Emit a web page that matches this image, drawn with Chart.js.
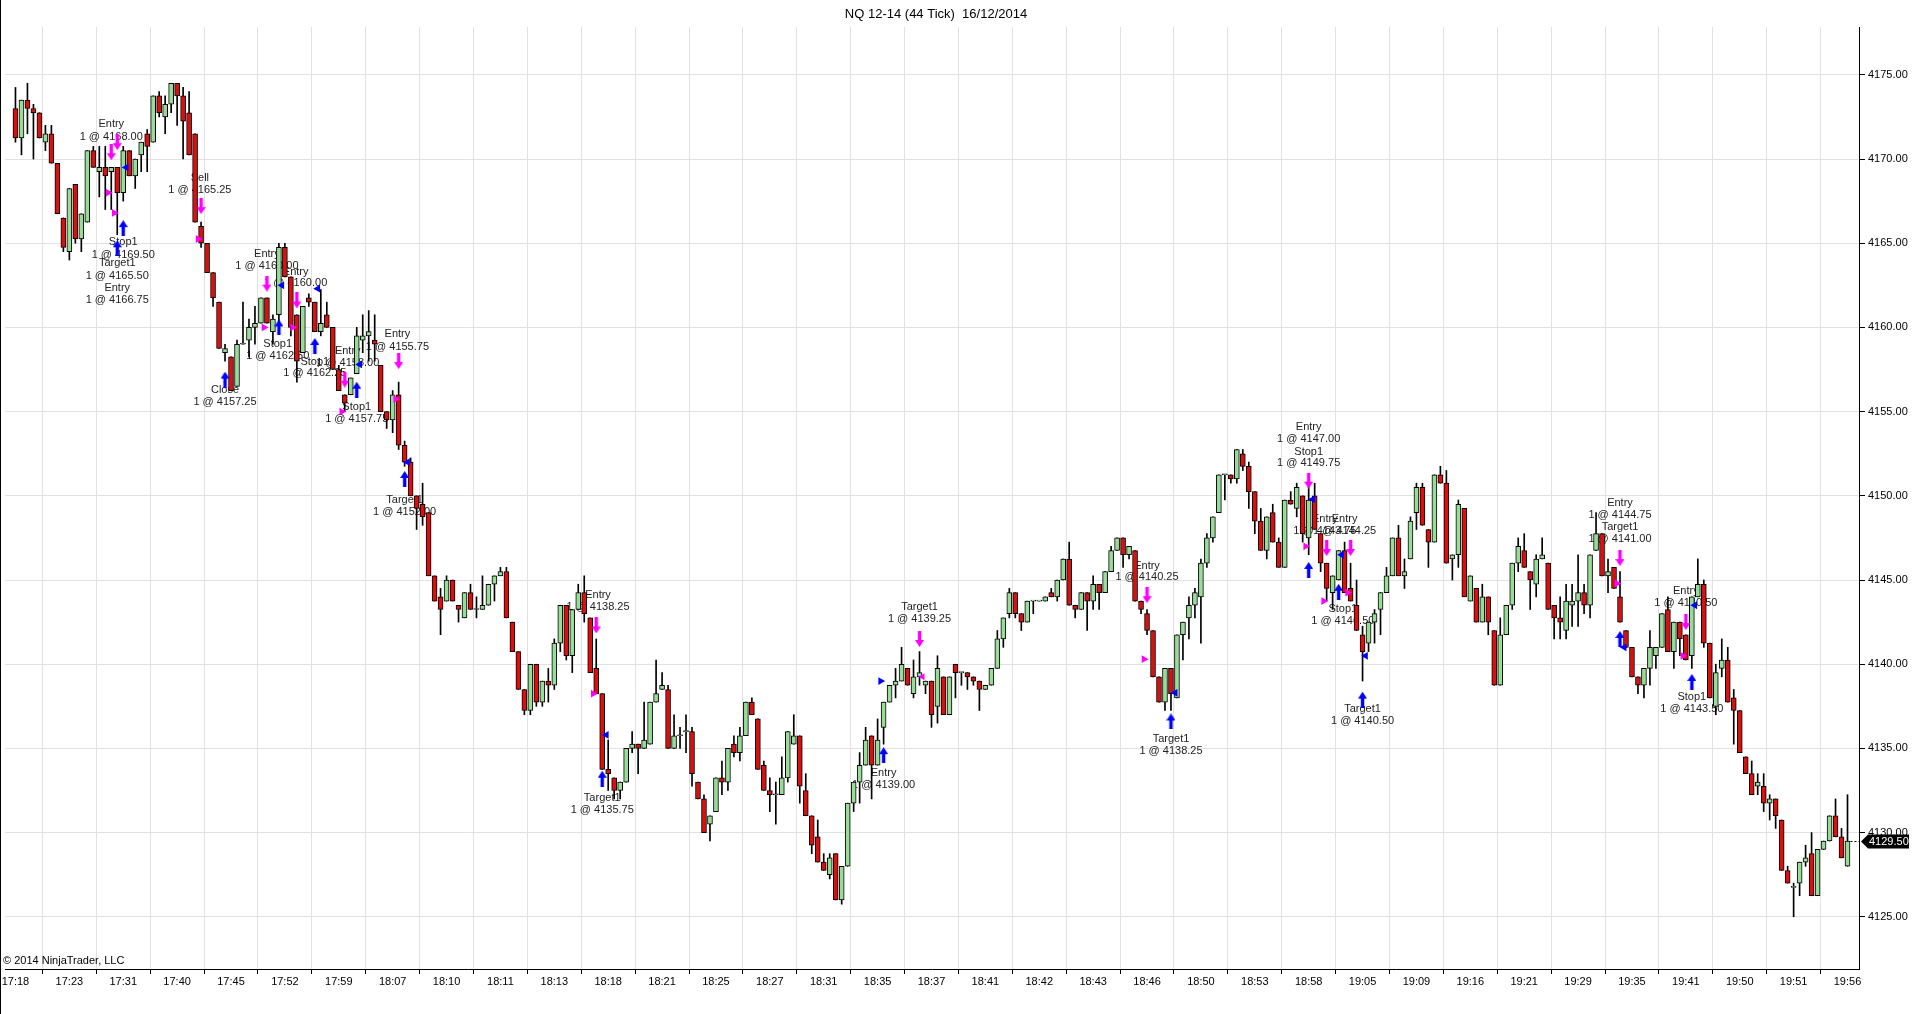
<!DOCTYPE html>
<html><head><meta charset="utf-8">
<script src="https://cdn.jsdelivr.net/npm/chart.js@4.4.1/dist/chart.umd.min.js"></script>
<style>html,body{margin:0;padding:0;background:#fff;overflow:hidden}canvas{display:block}</style>
</head><body>
<canvas id="c" width="1920" height="1014"></canvas>
<script>
const chartTitle = 'NQ 12-14 (44 Tick)  16/12/2014';
const copyright = '\u00a9 2014 NinjaTrader, LLC';
const barsPerLabel = 9;
const timeLabels = ['17:18','17:23','17:31','17:40','17:45','17:52','17:59','18:07','18:10','18:11','18:13','18:18','18:21','18:25','18:27','18:31','18:35','18:37','18:41','18:42','18:43','18:46','18:50','18:53','18:58','19:05','19:09','19:16','19:21','19:29','19:35','19:41','19:50','19:51','19:56'];
const yTicks = [4125,4130,4135,4140,4145,4150,4155,4160,4165,4170,4175];

const opens = [
4173,4171.25,4173.5,4173,4172.75,4171,4171.5,4169.75,4166.5,4164.5,
4168.5,4165.25,4166.25,4170.5,4169.25,4169.5,4169.25,4169.5,4168,4170.5,
4169,4170.25,4171.5,4171,4173.75,4172.5,4173.25,4174.5,4173.75,4172.75,
4171.5,4166,4165,4163.25,4161.5,4158.5,4158.25,4156.5,4159,4159.25,
4160,4160.25,4161.75,4159.75,4160.75,4164.75,4163,4160.75,4158.5,4161.75,
4161.5,4159.75,4160.75,4160,4157.5,4156,4156,4157.25,4159.25,4159.5,
4159.25,4157.75,4155,4154.5,4156,4153,4152,4150,4149.5,4149,
4145.25,4144,4143.75,4145,4143.5,4142.75,4144.25,4143.25,4143.25,4143.5,
4144.75,4145.25,4145.5,4142.5,4140.75,4138.5,4137.25,4140,4137.75,4139,
4138.75,4141.25,4143.5,4140.5,4143.25,4144.25,4142.75,4139.75,4138.25,4133.75,
4133.25,4132.5,4133,4135,4135.25,4135,4135.25,4137.75,4138.5,4138.5,
4135,4135.75,4136,4136,4133,4132,4130.5,4131.25,4133.25,4133,
4135.25,4134.75,4135.75,4137.75,4136.75,4134,4132.5,4132.25,4132.25,4133.25,
4135.25,4135.75,4132.5,4131,4129.75,4128.25,4127.5,4128.75,4126,4128,
4131.75,4133,4134,4135.75,4134,4136.25,4137.75,4138.75,4139,4139.75,
4138.25,4139.25,4138.75,4139,4137.5,4139.25,4137,4140,4139.5,4139.5,
4139.25,4139,4138.5,4138.75,4139.75,4141.5,4143,4144.25,4143,4142.5,
4143.75,4143.75,4143.75,4144.25,4144,4145,4146.25,4143.5,4143.25,4144.25,
4143.75,4144.75,4144.25,4145.5,4146.75,4147.5,4146.5,4146.75,4143.75,4143,
4142,4139.25,4137.75,4139.75,4138,4141.75,4142.75,4143.5,4144,4146,
4147.5,4149,4151.25,4151.25,4151,4152.5,4151.75,4150.25,4148.5,4146.75,
4149,4147.25,4145.75,4149.75,4149.25,4150,4147.5,4150,4147.75,4146,
4144.25,4145,4146.75,4144.5,4143.5,4141.75,4141.25,4142.5,4143.25,4144.25,
4145.25,4147.5,4145.25,4146.25,4149,4150.5,4148,4147.25,4151.25,4150.75,
4146.25,4146.5,4149.25,4143.75,4144.5,4142.5,4144,4142,4138.75,4141.75,
4143.5,4146,4146.75,4145.5,4144.75,4146.25,4146,4143.5,4142.75,4142,
4143.5,4143.75,4144.25,4143.5,4146.75,4147.75,4145.25,4145.75,4144,4142,
4141,4139.25,4138.75,4139.75,4140.5,4141,4143.25,4140.75,4142.5,4141.75,
4140.5,4144,4144.75,4141.25,4137.5,4139.75,4140.25,4138,4137.25,4134.5,
4133.5,4132.75,4132.75,4131.75,4132,4130.75,4127.75,4126.75,4127,4128.25,
4128.75,4126.25,4129,4129.5,4131,4129.75,4128];

const highs = [
4174.25,4173.5,4174.5,4173.25,4172.75,4172,4172,4169.75,4166.5,4168.25,
4168.5,4166.75,4170.5,4170.75,4170.75,4170.75,4169.5,4169.5,4170.75,4170.5,
4170,4171,4171.75,4173.75,4174,4173.75,4174.5,4174.5,4174.25,4174,
4171.5,4166.25,4165,4163.25,4161.5,4159,4158.25,4159.25,4161.5,4160.5,
4161.25,4161.75,4161.75,4160.75,4165,4165,4163,4160.75,4161.25,4162,
4161.5,4162.25,4161.5,4160,4157.75,4156,4157,4160,4160.75,4161,
4160.75,4157.75,4155,4156.25,4156.75,4153.25,4152.25,4150,4150.75,4149,
4145.25,4144.5,4145.25,4145,4143.5,4144.25,4144.75,4144,4145.25,4144.75,
4145.25,4145.75,4145.75,4142.5,4140.75,4138.5,4140,4140,4139,4139.75,
4141.5,4143.5,4143.5,4143.25,4144.75,4145.25,4142.75,4141.5,4138.25,4135.5,
4133.25,4133,4135,4136,4135.25,4137.75,4137.75,4140.25,4139.5,4138.75,
4137,4136.25,4137,4136.25,4133,4132.25,4131,4133.25,4134.25,4135,
4135.75,4136.25,4137.75,4138,4136.75,4134.25,4133.25,4133,4134.5,4136,
4137,4135.75,4133.5,4131,4130.75,4128.75,4128.75,4128.75,4128,4131.75,
4133,4134.75,4136.25,4135.75,4136.75,4137.75,4138.75,4139.75,4141,4139.75,
4140.25,4140.75,4139,4139,4140.5,4139.25,4139.25,4140,4139.5,4139.5,
4139.25,4139,4138.75,4139.75,4142,4142.75,4144.5,4144.25,4143,4143.75,
4143.75,4143.75,4144,4144.5,4145,4146.25,4147.25,4143.5,4144.25,4144.25,
4145.25,4144.75,4145.5,4147,4147.5,4147.5,4147,4146.75,4143.75,4143.25,
4142,4139.25,4139.75,4139.75,4141.75,4142.5,4144,4144.5,4146.25,4147.75,
4148.75,4151.25,4151.25,4151.25,4152.75,4152.75,4152,4150.25,4149.25,4148.75,
4149.5,4147.5,4149.75,4150.25,4150.75,4150,4150.75,4150.75,4147.75,4146,
4145.25,4146.75,4147.25,4146,4145,4142.25,4142.5,4143.25,4144.25,4145.75,
4147.5,4148.25,4146.25,4148.75,4150.75,4150.75,4148,4151.25,4151.75,4151.5,
4146.5,4149.75,4149.25,4145.25,4144.5,4144.75,4144,4142,4142.75,4143.5,
4146,4147.5,4147.75,4145.5,4146.5,4147.5,4146,4143.5,4144,4144.75,
4144.75,4146.5,4144.75,4146.5,4149,4147.75,4146.25,4145.75,4145.5,4142,
4141,4139.25,4139.75,4142,4141,4143,4144,4142.5,4142.5,4141.75,
4144,4146.25,4145,4141.25,4140,4141.5,4141,4138.5,4137.25,4134.5,
4134.25,4133.5,4133.5,4132.25,4132,4130.75,4128,4127,4128.25,4129.25,
4130,4129,4129.5,4131,4132,4130.25,4132.25];

const lows = [
4171,4170.25,4171.5,4170,4171.25,4170.5,4169.75,4166.75,4164.5,4164,
4165,4164.5,4166.25,4169.5,4167.75,4167,4167,4165.5,4167.5,4169,
4168.25,4169.25,4169.25,4171,4172.5,4171.5,4172.75,4172,4170,4170.25,
4166.25,4164.75,4163.25,4161.25,4158.75,4158,4156.25,4156.5,4159,4158.25,
4159,4160.25,4160.25,4159,4159.75,4163,4159.5,4156.75,4158.5,4161.25,
4159.75,4159.5,4160,4157.5,4156.25,4155,4156,4157.25,4158.5,4158,
4158,4155,4154,4153.75,4152.75,4151.75,4150,4148,4148.25,4145.25,
4143.75,4141.75,4143.75,4143.75,4142.5,4142.75,4143.25,4142.75,4143.25,4143.5,
4143.75,4145.25,4142.75,4140.75,4138.5,4137,4137,4137.5,4137.5,4137.75,
4138.5,4140.75,4140.25,4139.5,4143.25,4142.5,4139.5,4138.25,4133.75,4132.5,
4132,4132,4133,4134.75,4133.5,4135,4135.25,4137.75,4138.5,4135,
4135,4135,4134.75,4132.75,4132,4130,4129.5,4131.25,4132.25,4132.5,
4134.5,4134.25,4135.75,4137,4133.75,4132.5,4131.25,4130.5,4132.25,4133,
4135.25,4131.75,4131,4128.75,4128.25,4127.75,4127.25,4126,4125.75,4128,
4131.25,4131.75,4134,4132,4134,4135.25,4137.75,4138,4139,4138.75,
4138,4138.75,4138.25,4136.25,4136.5,4137,4137,4138,4138.75,4138.5,
4138.75,4137.25,4138.5,4138.75,4139.75,4141,4142.75,4142.75,4142,4142.5,
4143,4143.75,4143.75,4144,4143.75,4145,4143.5,4142.75,4143.25,4142,
4143.25,4143.25,4144.25,4145.5,4146.75,4145.75,4146.25,4143.75,4143,4141.75,
4139.25,4137.75,4137.25,4137.25,4138,4140.25,4141.5,4142.75,4141.25,4145.75,
4147.25,4149,4149.75,4150.75,4150.75,4151.5,4149.25,4147.75,4146.75,4146.25,
4147.25,4145.75,4145.75,4149.5,4148.75,4147.25,4146.5,4148,4145.5,4143.75,
4143.25,4145,4144.25,4143.75,4142,4139,4140.75,4141.25,4141.75,4144.25,
4145.25,4145.25,4144.5,4146.25,4148,4148.25,4145.75,4147.25,4150.75,4146,
4145,4145.75,4144,4143.75,4142.5,4142.5,4141.75,4138.75,4138.75,4141.75,
4143.25,4145.5,4145.75,4143.25,4144,4146.25,4143.25,4141.5,4141.5,4141.5,
4142.25,4142.25,4143,4142.75,4146.75,4145.25,4144.25,4144.5,4142.5,4141,
4139.25,4138.25,4138,4138.75,4139.75,4141,4140.75,4139.75,4140.5,4140.25,
4139.75,4144,4141,4138,4137,4139.25,4137.75,4135.25,4134.75,4133.5,
4132.25,4132.25,4131.25,4130.75,4130.25,4127.75,4127,4125,4126.25,4128,
4126.25,4126.25,4129,4129.5,4129.75,4128.5,4128];

const closes = [
4171.25,4173.5,4173,4172.75,4171.25,4171.5,4169.75,4166.75,4164.75,4168.25,
4165.25,4166.75,4170.5,4169.5,4169.5,4169,4169.5,4168,4170.5,4169,
4170,4171,4170.75,4173.75,4172.75,4173.25,4174.5,4173.75,4172.25,4170.25,
4166.25,4165,4163.25,4161.75,4158.75,4158.75,4156.25,4159,4159,4160,
4160.25,4161.75,4160.25,4160.5,4164.75,4163,4160,4158,4161.25,4161.5,
4159.75,4160.25,4160,4157.5,4156.25,4155.5,4157,4159.5,4159.5,4159.75,
4159,4155,4154.5,4156,4153,4152,4150,4149.25,4148.75,4145.25,
4143.75,4143.25,4145,4143.75,4143.25,4144.25,4143.25,4143.25,4143.5,4144.75,
4145.25,4145.5,4142.75,4140.75,4138.5,4137.25,4140,4137.75,4139,4138.75,
4141.25,4143.5,4140.5,4143.25,4144.25,4143,4139.5,4138.25,4133.75,4133.5,
4132.5,4133,4135,4135.25,4135,4135.5,4137.75,4138.25,4138.75,4135,
4135.75,4135.75,4136,4133.5,4132,4130,4131,4133.25,4133,4135,
4134.75,4135.75,4137.75,4137,4133.75,4132.5,4132.25,4132.25,4133.25,4136,
4135.75,4132.75,4131,4129.25,4128.25,4127.75,4128.5,4126,4128,4131.75,
4133,4134,4135.5,4134,4135.5,4137.75,4138.75,4139,4140,4138.75,
4139.25,4139.5,4139,4137,4139.75,4137,4139.25,4139.5,4139.5,4139.25,
4139,4138.5,4138.75,4139.75,4141.5,4142.75,4144.25,4143,4142.5,4143.75,
4143.75,4143.75,4144,4144,4145,4146.25,4143.5,4143.25,4144.25,4143.75,
4144.75,4144.25,4145.5,4146.75,4147.5,4146.5,4147,4143.75,4143.25,4142,
4139.25,4137.75,4139.75,4138.25,4141.75,4142.5,4143.5,4144.25,4146,4147.5,
4148.75,4151.25,4151.25,4151,4152.75,4151.75,4150.25,4148.5,4146.75,4148.75,
4147.25,4145.75,4149.75,4149.5,4150.5,4147.75,4149.75,4148,4146,4144.5,
4145.25,4146.75,4144.25,4143.75,4142,4140.75,4142.5,4143,4144.25,4145.25,
4147.5,4145.25,4145.5,4148.5,4150.5,4148.25,4147.25,4151.25,4150.75,4146,
4146.5,4149.5,4144,4145.25,4142.5,4144,4142.5,4138.75,4141.75,4143.5,
4146,4147,4145.75,4145,4146.25,4146.5,4143.25,4142.75,4142.5,4143.75,
4143.75,4144.25,4143.5,4146.5,4147.75,4145.25,4145.5,4144.5,4142.5,4141,
4139.25,4138.75,4139.75,4141,4141,4143,4140.75,4142.5,4141.5,4140.25,
4144,4144.75,4141.25,4138,4139.5,4140.25,4137.75,4137.25,4134.75,4133.5,
4132.25,4133,4131.75,4132,4131,4127.75,4127,4126.75,4128.25,4128.5,
4126.25,4129,4129.5,4131,4129.75,4128.5,4129.5];

// trade markers: [bar index, price]
const sellArrows = [[16,4170.4],[17,4171],[31,4167.2],[42,4162.6],[47,4161.6],[55,4156.9],[64,4158],[97,4142.3],[151,4141.5],[189,4144.1],[216,4150.9],[219,4146.9],[223,4146.9],[268,4146.3],[279,4142.5]];
const buyArrows = [[17,4164.7],[18,4165.9],[35,4156.9],[44,4160],[50,4158.9],[57,4156.3],[65,4151],[98,4133.2],[145,4134.6],[193,4136.6],[216,4145.6],[221,4144.3],[225,4137.9],[268,4141.5],[280,4138.95]];
const sellFills = [[15.5,4168],[16.5,4166.8],[30.5,4165.25],[41.5,4160],[46.3,4160],[54.5,4155],[63.5,4155.75],[96.5,4138.25],[188.5,4140.3],[215.5,4147],[218.5,4143.75],[222.5,4144.25],[267.5,4144.8],[278.5,4140.5]];
const buyFills = [[18.5,4169.5],[44.5,4162.5],[50.5,4162.3],[57.5,4157.8],[65.5,4152],[98.7,4135.8],[193.7,4138.3],[216.7,4149.8],[221.5,4146.5],[225.5,4140.5],[268.7,4141],[280.5,4143.5]];
const buyFillsRight = [[144.5,4139]];
const sellFillsLeft = [[151.5,4139.25]];

// trade labels: [bar index, price, text]
const tradeLabels = [
[16,4172.08,'Entry'],[16,4171.31,'1 @ 4168.00'],
[30.8,4168.87,'Sell'],[30.8,4168.16,'1 @ 4165.25'],
[18,4165.07,'Stop1'],[18,4164.30,'1 @ 4169.50'],
[17,4163.82,'Target1'],[17,4163.05,'1 @ 4165.50'],
[17,4162.34,'Entry'],[17,4161.63,'1 @ 4166.75'],
[42,4164.36,'Entry'],[42,4163.65,'1 @ 4160.00'],
[46.8,4163.29,'Entry'],[46.8,4162.64,'1 @ 4160.00'],
[35,4156.28,'Close'],[35,4155.57,'1 @ 4157.25'],
[43.8,4159.01,'Stop1'],[43.8,4158.30,'1 @ 4162.50'],
[50,4157.95,'Stop1'],[50,4157.29,'1 @ 4162.25'],
[55.5,4158.60,'Entry'],[55.5,4157.89,'1 @ 4158.00'],
[57,4155.27,'Stop1'],[57,4154.56,'1 @ 4157.75'],
[63.8,4159.61,'Entry'],[63.8,4158.84,'1 @ 4155.75'],
[65,4149.75,'Target1'],[65,4149.04,'1 @ 4152.00'],
[97.3,4144.11,'Entry'],[97.3,4143.40,'1 @ 4138.25'],
[98,4132.05,'Target1'],[98,4131.34,'1 @ 4135.75'],
[151,4143.40,'Target1'],[151,4142.68,'1 @ 4139.25'],
[145,4133.54,'Entry'],[145,4132.83,'1 @ 4139.00'],
[189,4145.83,'Entry'],[189,4145.18,'1 @ 4140.25'],
[193,4135.56,'Target1'],[193,4134.85,'1 @ 4138.25'],
[216,4154.09,'Entry'],[216,4153.37,'1 @ 4147.00'],[216,4152.60,'Stop1'],[216,4151.95,'1 @ 4149.75'],
[218.7,4148.62,'Entry'],[218.7,4147.91,'1 @ 4143.75'],
[222,4148.62,'Entry'],[222,4147.91,'1 @ 4144.25'],
[221.7,4143.28,'Stop1'],[221.7,4142.56,'1 @ 4146.50'],
[225,4137.34,'Target1'],[225,4136.63,'1 @ 4140.50'],
[268,4149.57,'Entry'],[268,4148.86,'1 @ 4144.75'],[268,4148.15,'Target1'],[268,4147.43,'1 @ 4141.00'],
[279,4144.35,'Entry'],[279,4143.63,'1 @ 4140.50'],
[280,4138.05,'Stop1'],[280,4137.34,'1 @ 4143.50']
];

const UP = '#98dc98', DOWN = '#d81010', MAGENTA = '#ff00ff', BLUE = '#0000ff';
const FONT = '"Liberation Sans", Arial, sans-serif';

function arrowImg(color, up){
  const w = 9, h = 16, c = document.createElement('canvas'); c.width = w; c.height = h;
  const g = c.getContext('2d'); g.fillStyle = color; g.beginPath();
  if (up) { g.moveTo(4.5,0); g.lineTo(9,7); g.lineTo(6.2,7); g.lineTo(6.2,16); g.lineTo(2.8,16); g.lineTo(2.8,7); g.lineTo(0,7); }
  else { g.moveTo(2.8,0); g.lineTo(6.2,0); g.lineTo(6.2,9); g.lineTo(9,9); g.lineTo(4.5,16); g.lineTo(0,9); g.lineTo(2.8,9); }
  g.closePath(); g.fill();
  return c;
}
const downArrow = arrowImg(MAGENTA, false);
const upArrow = arrowImg(BLUE, true);

const idx = opens.map((_, i) => i);
const wickData = idx.map(i => ({x: i, y: [Math.min(lows[i], opens[i], closes[i]), Math.max(highs[i], opens[i], closes[i])]}));
const bodyData = idx.map(i => ({x: i, y: [Math.min(opens[i], closes[i]), Math.max(opens[i], closes[i])]}));
const bodyColors = idx.map(i => closes[i] >= opens[i] ? UP : DOWN);
const pts = arr => arr.map(([i, p]) => ({x: i, y: p}));

const overlay = {
  id: 'overlay',
  beforeDatasetsDraw(chart) {
    const {ctx, chartArea: a, scales: {x, y}} = chart;
    ctx.save();
    ctx.beginPath(); ctx.rect(a.left, a.top, a.right - a.left, a.bottom - a.top); ctx.clip();
    ctx.font = '11px ' + FONT; ctx.fillStyle = '#222'; ctx.textAlign = 'center'; ctx.textBaseline = 'middle';
    for (const [i, p, t] of tradeLabels) ctx.fillText(t, x.getPixelForValue(i), y.getPixelForValue(p));
    ctx.restore();
  },
  afterDraw(chart) {
    const {ctx, chartArea: a, scales: {x, y}} = chart;
    ctx.save();
    ctx.font = '13px ' + FONT; ctx.fillStyle = '#000'; ctx.textAlign = 'center'; ctx.textBaseline = 'middle';
    ctx.fillText(chartTitle, 936, 14);
    ctx.font = '11px ' + FONT; ctx.textAlign = 'left';
    ctx.fillText(copyright, 3, a.bottom - 8);
    ctx.fillStyle = '#000'; ctx.fillRect(0, 0, 1, chart.height);
    const last = closes.length - 1;
    const py = Math.round(y.getPixelForValue(closes[last])) + 0.5;
    ctx.strokeStyle = '#000'; ctx.lineWidth = 1; ctx.setLineDash([2, 2]);
    ctx.beginPath(); ctx.moveTo(x.getPixelForValue(last) + 3, py); ctx.lineTo(a.right, py); ctx.stroke();
    ctx.setLineDash([]);
    const r = a.right;
    ctx.beginPath();
    ctx.moveTo(r + 2, py); ctx.lineTo(r + 9, py - 7); ctx.lineTo(r + 50, py - 7); ctx.lineTo(r + 50, py + 7); ctx.lineTo(r + 9, py + 7); ctx.closePath();
    ctx.fillStyle = '#000'; ctx.fill();
    ctx.fillStyle = '#fff'; ctx.font = '11px ' + FONT; ctx.textAlign = 'left'; ctx.textBaseline = 'middle';
    ctx.fillText(closes[last].toFixed(2), r + 10, py);
    ctx.restore();
  }
};

new Chart(document.getElementById('c'), {
  type: 'bar',
  data: {
    datasets: [
      {label: 'wick', data: wickData, backgroundColor: '#000', borderWidth: 0, barThickness: 1, grouped: false, order: 3},
      {label: 'body', data: bodyData, backgroundColor: bodyColors, borderColor: '#000', borderWidth: 1, borderSkipped: false, barThickness: 5, minBarLength: 1, grouped: false, order: 2},
      {type: 'scatter', label: 'sell', data: pts(sellArrows), pointStyle: downArrow, order: 0},
      {type: 'scatter', label: 'buy', data: pts(buyArrows), pointStyle: upArrow, order: 0},
      {type: 'scatter', label: 'sellFill', data: pts(sellFills), pointStyle: 'triangle', pointRotation: 90, pointRadius: 4.5, backgroundColor: MAGENTA, borderWidth: 0, order: 1},
      {type: 'scatter', label: 'sellFillL', data: pts(sellFillsLeft), pointStyle: 'triangle', pointRotation: -90, pointRadius: 4, backgroundColor: MAGENTA, borderWidth: 0, order: 1},
      {type: 'scatter', label: 'buyFill', data: pts(buyFills), pointStyle: 'triangle', pointRotation: -90, pointRadius: 4.5, backgroundColor: BLUE, borderWidth: 0, order: 1},
      {type: 'scatter', label: 'buyFillR', data: pts(buyFillsRight), pointStyle: 'triangle', pointRotation: 90, pointRadius: 4.5, backgroundColor: BLUE, borderWidth: 0, order: 1}
    ]
  },
  options: {
    responsive: false, animation: false, devicePixelRatio: 1,
    events: [],
    layout: {padding: {left: 1, top: 27, right: 0, bottom: 0}},
    plugins: {legend: {display: false}, tooltip: {enabled: false}, title: {display: false}},
    scales: {
      x: {
        type: 'linear', min: -1.75, max: 307.92, offset: false,
        afterBuildTicks: s => { s.ticks = timeLabels.map((t, k) => ({value: k * barsPerLabel})); },
        afterFit: s => { s.height = 45; s.paddingLeft = 0; s.paddingRight = 0; },
        ticks: {autoSkip: false, maxRotation: 0, minRotation: 0, padding: 1, color: '#000', font: {family: FONT, size: 11}, callback: (v, i) => timeLabels[i]},
        grid: {color: '#e2e2e2', tickColor: '#000', tickLength: 5, lineWidth: 1},
        border: {color: '#000', width: 1}
      },
      y: {
        position: 'right', min: 4121.9, max: 4177.84,
        afterBuildTicks: s => { s.ticks = yTicks.map(v => ({value: v})); },
        afterFit: s => { s.width = 61; s.paddingTop = 0; s.paddingBottom = 0; },
        ticks: {padding: 3, color: '#000', font: {family: FONT, size: 11}, callback: v => Number(v).toFixed(2)},
        grid: {color: '#e2e2e2', tickColor: '#000', tickLength: 6, lineWidth: 1},
        border: {color: '#000', width: 1}
      }
    }
  },
  plugins: [overlay]
});
</script>
</body></html>
